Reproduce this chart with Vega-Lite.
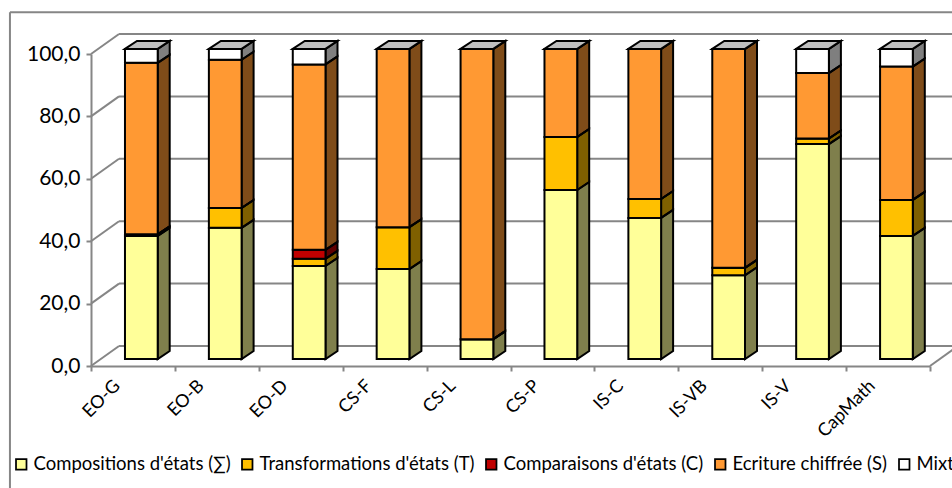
{
"$schema":"https://vega.github.io/schema/vega-lite/v6.json",
"autosize":{"type":"none"},
"padding":{"left":91,"top":54,"right":22,"bottom":122},
"width":839,"height":312,
"background":"white",
"config":{"view":{"stroke":null},"font":"Lato"},
"datasets":{
"barres":[
{"categorie":"EO-G","serie":"Compositions d'états (∑)","valeur":39.7},
{"categorie":"EO-G","serie":"Transformations d'états (T)","valeur":0.5},
{"categorie":"EO-G","serie":"Comparaisons d'états (C)","valeur":0},
{"categorie":"EO-G","serie":"Ecriture chiffrée (S)","valeur":55.3},
{"categorie":"EO-G","serie":"Mixte (M)","valeur":4.5},
{"categorie":"EO-B","serie":"Compositions d'états (∑)","valeur":42.3},
{"categorie":"EO-B","serie":"Transformations d'états (T)","valeur":6.4},
{"categorie":"EO-B","serie":"Comparaisons d'états (C)","valeur":0},
{"categorie":"EO-B","serie":"Ecriture chiffrée (S)","valeur":47.8},
{"categorie":"EO-B","serie":"Mixte (M)","valeur":3.5},
{"categorie":"EO-D","serie":"Compositions d'états (∑)","valeur":30},
{"categorie":"EO-D","serie":"Transformations d'états (T)","valeur":2.3},
{"categorie":"EO-D","serie":"Comparaisons d'états (C)","valeur":2.9},
{"categorie":"EO-D","serie":"Ecriture chiffrée (S)","valeur":59.8},
{"categorie":"EO-D","serie":"Mixte (M)","valeur":5},
{"categorie":"CS-F","serie":"Compositions d'états (∑)","valeur":29},
{"categorie":"CS-F","serie":"Transformations d'états (T)","valeur":13.5},
{"categorie":"CS-F","serie":"Comparaisons d'états (C)","valeur":0},
{"categorie":"CS-F","serie":"Ecriture chiffrée (S)","valeur":57.5},
{"categorie":"CS-F","serie":"Mixte (M)","valeur":0},
{"categorie":"CS-L","serie":"Compositions d'états (∑)","valeur":6.4},
{"categorie":"CS-L","serie":"Transformations d'états (T)","valeur":0},
{"categorie":"CS-L","serie":"Comparaisons d'états (C)","valeur":0},
{"categorie":"CS-L","serie":"Ecriture chiffrée (S)","valeur":93.6},
{"categorie":"CS-L","serie":"Mixte (M)","valeur":0},
{"categorie":"CS-P","serie":"Compositions d'états (∑)","valeur":54.5},
{"categorie":"CS-P","serie":"Transformations d'états (T)","valeur":17.1},
{"categorie":"CS-P","serie":"Comparaisons d'états (C)","valeur":0},
{"categorie":"CS-P","serie":"Ecriture chiffrée (S)","valeur":28.4},
{"categorie":"CS-P","serie":"Mixte (M)","valeur":0},
{"categorie":"IS-C","serie":"Compositions d'états (∑)","valeur":45.5},
{"categorie":"IS-C","serie":"Transformations d'états (T)","valeur":6.1},
{"categorie":"IS-C","serie":"Comparaisons d'états (C)","valeur":0},
{"categorie":"IS-C","serie":"Ecriture chiffrée (S)","valeur":48.4},
{"categorie":"IS-C","serie":"Mixte (M)","valeur":0},
{"categorie":"IS-VB","serie":"Compositions d'états (∑)","valeur":27},
{"categorie":"IS-VB","serie":"Transformations d'états (T)","valeur":2.4},
{"categorie":"IS-VB","serie":"Comparaisons d'états (C)","valeur":0},
{"categorie":"IS-VB","serie":"Ecriture chiffrée (S)","valeur":70.6},
{"categorie":"IS-VB","serie":"Mixte (M)","valeur":0},
{"categorie":"IS-V","serie":"Compositions d'états (∑)","valeur":69.3},
{"categorie":"IS-V","serie":"Transformations d'états (T)","valeur":1.8},
{"categorie":"IS-V","serie":"Comparaisons d'états (C)","valeur":0},
{"categorie":"IS-V","serie":"Ecriture chiffrée (S)","valeur":21.1},
{"categorie":"IS-V","serie":"Mixte (M)","valeur":7.8},
{"categorie":"CapMath","serie":"Compositions d'états (∑)","valeur":39.7},
{"categorie":"CapMath","serie":"Transformations d'états (T)","valeur":11.6},
{"categorie":"CapMath","serie":"Comparaisons d'états (C)","valeur":0},
{"categorie":"CapMath","serie":"Ecriture chiffrée (S)","valeur":43},
{"categorie":"CapMath","serie":"Mixte (M)","valeur":5.7}
],
"grille":[{"g":0},{"g":20},{"g":40},{"g":60},{"g":80},{"g":100}]
},
"data":{"name":"barres"},
"transform":[
{"calculate":"indexof(['EO-G','EO-B','EO-D','CS-F','CS-L','CS-P','IS-C','IS-VB','IS-V','CapMath'],datum.categorie)","as":"idx"},
{"calculate":"indexof(['Compositions d\\'états (∑)','Transformations d\\'états (T)','Comparaisons d\\'états (C)','Ecriture chiffrée (S)','Mixte (M)'],datum.serie)","as":"ord"},
{"stack":"valeur","groupby":["categorie"],"sort":[{"field":"ord","order":"ascending"}],"as":["v0","v1"]},
{"calculate":"datum.idx+0.405","as":"xg"},
{"calculate":"datum.idx+0.795","as":"xd"},
{"calculate":"2.24+0.994*datum.v0","as":"yb"},
{"calculate":"2.24+0.994*datum.v1","as":"yh"}
],
"layer":[
{"data":{"name":"grille"},
 "transform":[{"filter":"datum.g===0"}],
 "mark":{"type":"rule","color":"#868686","strokeWidth":2,"clip":false},
 "encoding":{
  "x":{"datum":-0.966,"type":"quantitative","title":null,"scale":{"domain":[0,10],"nice":false,"zero":false},
   "axis":{"values":[0,1,2,3,4,5,6,7,8,9,10],"grid":false,"title":null,"domainColor":"#868686","domainWidth":2,"tickColor":"#868686","tickWidth":2,"tickSize":5,
    "labelExpr":"['EO-G','EO-B','EO-D','CS-F','CS-L','CS-P','IS-C','IS-VB','IS-V','CapMath',''][datum.value]",
    "labelAngle":-45,"labelAlign":"right","labelBaseline":"middle","labelOffset":26,"labelPadding":12,"labelFont":"Lato","labelFontSize":18,"labelColor":"black","labelOverlap":false,"labelBound":false,"labelFlush":false}},
  "y":{"datum":113.4,"type":"quantitative","title":null,"scale":{"domain":[0,100],"nice":false,"zero":false},
   "axis":{"values":[0,20,40,60,80,100],"grid":false,"title":null,"domainColor":"#868686","domainWidth":2,"tickColor":"#868686","tickWidth":2,"tickSize":5,
    "labelExpr":"replace(format(datum.value,'.1f'),'.',',')","labelFont":"Lato","labelFontSize":21,"labelColor":"black","labelPadding":6}},
  "y2":{"datum":-45}}},
{"data":{"name":"grille"},
 "transform":[{"filter":"datum.g===0"}],
 "mark":{"type":"rule","color":"#868686","strokeWidth":2,"clip":false},
 "encoding":{"x":{"datum":-0.966,"type":"quantitative","title":null},"x2":{"datum":11},"y":{"datum":113.4,"type":"quantitative","title":null}}},
{"data":{"name":"grille"},
 "transform":[{"calculate":"datum.g+6.41","as":"gb"}],
 "mark":{"type":"rule","color":"#868686","strokeWidth":2,"clip":false},
 "encoding":{"x":{"datum":0.334,"type":"quantitative","title":null},"x2":{"datum":10.334},"y":{"field":"gb","type":"quantitative","title":null}}},
{"data":{"name":"grille"},
 "transform":[{"calculate":"datum.g+6.41","as":"gb"}],
 "mark":{"type":"rule","color":"#868686","strokeWidth":2,"clip":false},
 "encoding":{"x":{"datum":0,"type":"quantitative","title":null},"x2":{"datum":0.334},"y":{"field":"g","type":"quantitative","title":null},"y2":{"field":"gb"}}},
{"data":{"name":"grille"},
 "transform":[{"filter":"datum.g===0"},{"calculate":"datum.g+6.41","as":"gb"}],
 "mark":{"type":"rule","color":"#868686","strokeWidth":2,"clip":false},
 "encoding":{"x":{"datum":10,"type":"quantitative","title":null},"x2":{"datum":10.334},"y":{"field":"g","type":"quantitative","title":null},"y2":{"field":"gb"}}},
{"transform":[{"calculate":"[0,1]","as":"t"},{"flatten":["t"]},{"calculate":"datum.xd+0.143*datum.t","as":"ax"},{"calculate":"datum.yh+2.56*datum.t","as":"ay"},{"calculate":"datum.yb+2.56*datum.t","as":"ay2"}],
 "mark":{"type":"area","orient":"vertical","clip":false},
 "encoding":{"x":{"field":"ax","type":"quantitative","title":null},"y":{"field":"ay","type":"quantitative","stack":null,"title":null},"y2":{"field":"ay2"},"detail":[{"field":"categorie"},{"field":"serie"}],
  "fill":{"field":"serie","type":"nominal",
   "scale":{"domain":["Compositions d'états (∑)","Transformations d'états (T)","Comparaisons d'états (C)","Ecriture chiffrée (S)","Mixte (M)"],"range":["#FFFF99","#FFC000","#C00000","#FF9933","#FFFFFF"]},
   "legend":{"title":null,"orient":"none","legendX":-79,"legendY":401,"direction":"horizontal","columns":5,"symbolType":"square","symbolSize":110,"symbolStrokeColor":"black","symbolStrokeWidth":1.75,"symbolOpacity":1,"labelFont":"Lato","labelFontSize":18.5,"labelColor":"black","labelLimit":400,"columnPadding":7,"labelOffset":3}}}},
{"transform":[{"calculate":"[0,1]","as":"t"},{"flatten":["t"]},{"calculate":"datum.xd+0.143*datum.t","as":"ax"},{"calculate":"datum.yh+2.56*datum.t","as":"ay"},{"calculate":"datum.yb+2.56*datum.t","as":"ay2"}],
 "mark":{"type":"area","orient":"vertical","clip":false,"fill":"black","fillOpacity":0.5,"stroke":"black","strokeWidth":2},
 "encoding":{"x":{"field":"ax","type":"quantitative","title":null},"y":{"field":"ay","type":"quantitative","stack":null,"title":null},"y2":{"field":"ay2"},"detail":[{"field":"categorie"},{"field":"serie"}]}},
{"transform":[{"filter":"datum.ord===4"},{"calculate":"[0,1,2,3]","as":"t"},{"flatten":["t"]},{"calculate":"datum.xg+[0,0.143,0.39,0.533][datum.t]","as":"ax"},{"calculate":"datum.yh+[0,2.56,2.56,2.56][datum.t]","as":"ay"},{"calculate":"datum.yh+[0,0,0,2.56][datum.t]","as":"ay2"}],
 "mark":{"type":"area","orient":"vertical","clip":false,"fill":"#BFBFBF","stroke":"black","strokeWidth":2},
 "encoding":{"x":{"field":"ax","type":"quantitative","title":null},"y":{"field":"ay","type":"quantitative","stack":null,"title":null},"y2":{"field":"ay2"},"detail":{"field":"categorie"}}},
{"mark":{"type":"rect","stroke":"black","strokeWidth":2,"clip":false},
 "encoding":{
  "x":{"field":"xg","type":"quantitative","title":null},
  "x2":{"field":"xd"},
  "y":{"field":"yb","type":"quantitative","title":null},
  "y2":{"field":"yh"},
  "fill":{"field":"serie","type":"nominal"}
 }}
]
}
